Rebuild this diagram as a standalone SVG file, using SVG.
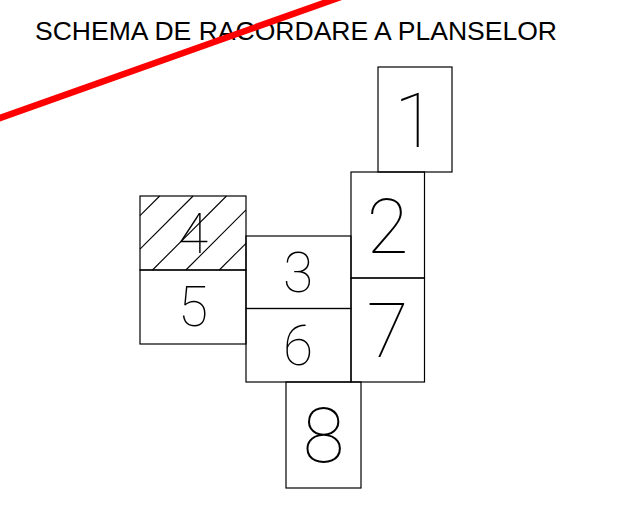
<svg xmlns="http://www.w3.org/2000/svg" width="631" height="509" viewBox="0 0 631 509">
<style>
  .box { fill: none; stroke: #000; stroke-width: 1.2; }
  .hatch { stroke: #000; stroke-width: 1.1; fill: none; }
  .num { font-family: Roboto, "DejaVu Sans", sans-serif; font-weight: 100; fill: #000; text-anchor: middle; }
  .big { font-size: 76px; }
  .small { font-size: 55px; }
  .title { font-family: "Liberation Sans", Arial, sans-serif; font-size: 26.4px; fill: #000; }
</style>
<rect width="631" height="509" fill="#fff"/>
<text class="title" x="35" y="39.5" textLength="522" lengthAdjust="spacingAndGlyphs">SCHEMA DE RACORDARE A PLANSELOR</text>

<g id="plansa-1">
  <rect class="box" x="378" y="67" width="74" height="105"/>
  <text class="num big" x="415" y="147">1</text>
</g>
<g id="plansa-2">
  <rect class="box" x="351" y="172" width="73.5" height="106"/>
  <text class="num big" x="387.5" y="252.5">2</text>
</g>
<g id="plansa-7">
  <rect class="box" x="351" y="278" width="73.5" height="104"/>
  <text class="num big" x="387.5" y="357">7</text>
</g>
<g id="plansa-3">
  <rect class="box" x="246" y="236" width="105" height="72.5"/>
  <text class="num small" x="298" y="292">3</text>
</g>
<g id="plansa-6">
  <rect class="box" x="246" y="308.5" width="105" height="73.5"/>
  <text class="num small" x="298" y="364.5">6</text>
</g>
<g id="plansa-4">
  <rect class="box" x="140" y="196" width="106" height="74"/>
  <g class="hatch">
    <line x1="159.7" y1="196" x2="140" y2="215.7"/>
    <line x1="193.1" y1="196" x2="140" y2="249.1"/>
    <line x1="226.5" y1="196" x2="152.5" y2="270"/>
    <line x1="246" y1="209.9" x2="185.9" y2="270"/>
    <line x1="246" y1="243.3" x2="219.3" y2="270"/>
  </g>
  <text class="num small" x="193" y="252.5">4</text>
</g>
<g id="plansa-5">
  <rect class="box" x="140" y="270" width="106" height="74"/>
  <text class="num small" x="193" y="326">5</text>
</g>
<g id="plansa-8">
  <rect class="box" x="286" y="382" width="75" height="106"/>
  <text class="num big" x="323.5" y="462">8</text>
</g>

<g id="connectors"></g>

<g id="strike">
  <line x1="-10" y1="121.5" x2="345" y2="-4.5" stroke="#ff0000" stroke-width="6.5"/>
</g>
</svg>
